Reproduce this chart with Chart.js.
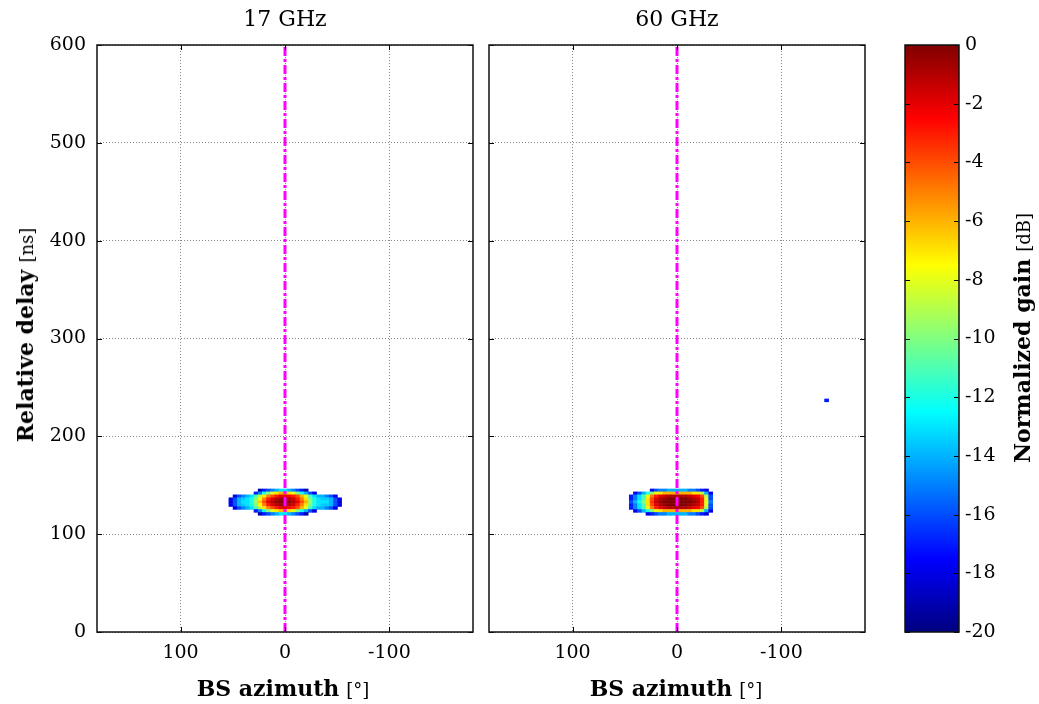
<!DOCTYPE html>
<html>
<head>
<meta charset="utf-8">
<script src="https://cdn.jsdelivr.net/npm/chart.js@4.4.0/dist/chart.umd.min.js"></script>
<style>
body{margin:0;background:#fff;width:1039px;height:704px;position:relative;overflow:hidden;font-family:'DejaVu Serif',serif;color:#000}
canvas{position:absolute;top:0}
.lbl{position:absolute;white-space:nowrap;font-size:22px;transform:translate(-50%,-50%)}
.lbl b{font-weight:bold}
.lbl span{font-size:18px}
.rot{transform:translate(-50%,-50%) rotate(-90deg)}
</style>
</head>
<body>
<canvas id="c17" width="480" height="704" style="left:0"></canvas>
<canvas id="c60" width="392" height="704" style="left:480px"></canvas>
<canvas id="cbar" width="159" height="704" style="left:880px"></canvas>
<div class="lbl" style="left:285px;top:18px">17 GHz</div>
<div class="lbl" style="left:677px;top:18px">60 GHz</div>
<div class="lbl" style="left:283px;top:688px"><b>BS azimuth</b> <span>[°]</span></div>
<div class="lbl" style="left:676px;top:688px"><b>BS azimuth</b> <span>[°]</span></div>
<div class="lbl rot" style="left:25px;top:335px"><b>Relative delay</b> <span>[ns]</span></div>
<div class="lbl rot" style="left:1022px;top:338px"><b>Normalized gain</b> <span>[dB]</span></div>
<script>
// griglia della mappa: azimut (colonne) e ritardo (righe)
var azCols = [52,48,44,40,36,32,28,24,20,16,12,8,4,0,-4,-8,-12,-16,-20,-24,-28,-32,-36,-40,-44,-48,-52];
var delayRows = [145,142,139,136,133,130,127,124,121];
var _ = null;

// guadagno normalizzato [dB] a 17 GHz
var gain17 = [
  [_,_,_,_,_,_,_,-19,-17,-16,-15,-14,-13,-13,-14,-15,-16,-17,-19,_,_,_,_,_,_,_,_],
  [_,_,_,_,_,_,-17,-15,-12,-10,-8,-7,-6,-6,-7,-8,-10,-12,-14,-16,-18,_,_,_,_,_,_],
  [_,-18,-16,-15,-14,-13,-11,-9,-7,-5,-4,-3,-2,-2,-2.5,-3,-4,-6,-8,-11,-13,-14,-14,-15,-16,-18,_],
  [-18,-16,-14,-13.5,-13,-12,-10,-7.5,-5,-3,-2,-1,-0.5,-0.5,-1,-1.5,-3,-5,-7,-10,-12,-13,-13.5,-13.5,-14,-16,-18],
  [-18,-16,-14,-13,-13,-12,-9.5,-6.5,-4,-2,-1,-0.5,0,0,-0.5,-1,-2,-4,-6,-9.5,-12,-13,-13,-13,-14,-16,-18],
  [-18,-16,-14,-13.5,-13,-12,-10,-7.5,-5,-3,-2,-1,-0.5,-0.5,-1,-1.5,-3,-5,-7,-10,-12,-13,-13.5,-13.5,-14,-16,-18],
  [_,-18,-16,-15,-14,-13,-11,-9,-7,-5,-4,-3,-2,-2,-2.5,-3,-4,-6,-8,-11,-13,-14,-14,-15,-16,-18,_],
  [_,_,_,_,_,_,-17,-15,-12,-10,-8,-7,-6,-6,-7,-8,-10,-12,-14,-16,-18,_,_,_,_,_,_],
  [_,_,_,_,_,_,_,-19,-17,-16,-15,-14,-13,-13,-14,-15,-16,-17,-19,_,_,_,_,_,_,_,_]
];

// guadagno normalizzato [dB] a 60 GHz
var gain60 = [
  [_,_,_,_,_,_,_,-18,-16,-15,-15,-14,-14,-14,-14,-14,-15,-15,-16,-17,-18,_,_,_,_,_,_],
  [_,_,_,-18,-16,-14,-12,-10,-8,-7,-6,-6,-6,-6,-6,-6,-6,-7,-7,-9,-14,-18,_,_,_,_,_],
  [_,_,-17,-15,-13,-11,-8,-5,-3,-2,-1.5,-1,-1,-1,-1,-1,-1.5,-2,-2.5,-4,-9,-16,_,_,_,_,_],
  [_,_,-17,-15,-13,-11,-7,-4,-2,-1,-0.5,0,0,0,0,0,-0.5,-1,-1.5,-3,-8,-16,_,_,_,_,_],
  [_,_,-16,-14,-12,-10,-7,-3.5,-1.5,-0.5,0,0,0,0,0,0,0,-0.5,-1,-3,-8,-15,_,_,_,_,_],
  [_,_,-17,-15,-13,-11,-7,-4,-2,-1,-0.5,0,0,0,0,0,-0.5,-1,-1.5,-3,-8,-16,_,_,_,_,_],
  [_,_,-17,-15,-13,-11,-8,-5,-3,-2,-1.5,-1,-1,-1,-1,-1,-1.5,-2,-2.5,-4,-9,-16,_,_,_,_,_],
  [_,_,_,-18,-16,-14,-12,-10,-8,-7,-6,-6,-6,-6,-6,-6,-6,-7,-7,-9,-14,-18,_,_,_,_,_],
  [_,_,_,_,_,_,-18,-17,-16,-15,-15,-14,-14,-14,-14,-14,-15,-15,-16,-17,-18,_,_,_,_,_,_]
];
// punto isolato a 60 GHz
var spotAz60 = [-143];
var spotDelay60 = [237];
var spotGain60 = [-17];

var xTicks = [100, 0, -100];
var lineAz = [0, 0];
var lineDelay = [0, 600];
var gainMin = -20, gainMax = 0;

var FONT = 'DejaVu Serif';

// mappa colori jet
function jet(v) {
  var t = Math.min(1, Math.max(0, (v - gainMin) / (gainMax - gainMin)));
  var c = function(x){ return Math.round(255 * Math.min(1, Math.max(0, 1.5 - Math.abs(x)))); };
  return 'rgb(' + c(4*t-3) + ',' + c(4*t-2) + ',' + c(4*t-1) + ')';
}

function makeHeat(values, sAz, sDelay, sGain) {
  return {
    id: 'heat',
    beforeDatasetsDraw: function(chart) {
      var ctx = chart.ctx, a = chart.chartArea, x = chart.scales.x, y = chart.scales.y;
      ctx.save();
      ctx.beginPath(); ctx.rect(a.left, a.top, a.width, a.height); ctx.clip();
      function cell(az, d, g) {
        var x0 = x.getPixelForValue(az + 2), x1 = x.getPixelForValue(az - 2);
        var y0 = y.getPixelForValue(d + 1.5), y1 = y.getPixelForValue(d - 1.5);
        ctx.fillStyle = jet(g);
        ctx.fillRect(Math.min(x0,x1), Math.min(y0,y1), Math.abs(x1-x0) + 0.5, Math.abs(y1-y0) + 0.5);
      }
      for (var i = 0; i < delayRows.length; i++) {
        for (var j = 0; j < azCols.length; j++) {
          if (values[i][j] !== null) cell(azCols[j], delayRows[i], values[i][j]);
        }
      }
      for (var k = 0; k < sAz.length; k++) cell(sAz[k], sDelay[k], sGain[k]);
      ctx.restore();
    }
  };
}

// cornice e tacche verso l'interno
var framePlugin = {
  id: 'frame',
  afterDraw: function(chart) {
    var ctx = chart.ctx, a = chart.chartArea, tl = 5;
    ctx.save();
    ctx.strokeStyle = '#000';
    ctx.lineWidth = 1;
    Object.keys(chart.scales).forEach(function(k){
      var s = chart.scales[k];
      if (!s.options.display) return;
      s.ticks.forEach(function(t){
        var p = Math.round(s.getPixelForValue(t.value)) + 0.5;
        ctx.beginPath();
        if (s.isHorizontal()) {
          ctx.moveTo(p, a.bottom); ctx.lineTo(p, a.bottom - tl);
          ctx.moveTo(p, a.top); ctx.lineTo(p, a.top + tl);
        } else {
          ctx.moveTo(a.left, p); ctx.lineTo(a.left + tl, p);
          ctx.moveTo(a.right, p); ctx.lineTo(a.right - tl, p);
        }
        ctx.stroke();
      });
    });
    ctx.lineWidth = 1.5;
    ctx.strokeStyle = '#111';
    ctx.strokeRect(a.left, a.top, a.width, a.height);
    ctx.restore();
  }
};

function panel(id, values, sAz, sDelay, sGain, showY, yWidth) {
  return new Chart(document.getElementById(id), {
    type: 'scatter',
    data: {
      datasets: [{
        data: lineAz.map(function(v, i){ return {x: v, y: lineDelay[i]}; }),
        showLine: true,
        borderColor: '#ff00ff',
        borderWidth: 3,
        borderDash: [9, 3, 3, 3],
        pointRadius: 0
      }]
    },
    options: {
      responsive: false,
      animation: false,
      layout: {padding: {top: 45, right: 7, left: 0, bottom: 0}},
      plugins: {legend: {display: false}, tooltip: {enabled: false}},
      scales: {
        x: {
          type: 'linear', min: -180, max: 180, reverse: true,
          afterBuildTicks: function(s){ s.ticks = xTicks.map(function(v){ return {value: v}; }); },
          afterFit: function(s){ s.height = 72; },
          ticks: {color: '#000', padding: 10, font: {family: FONT, size: 19}},
          grid: {color: 'rgba(0,0,0,0.6)', lineWidth: 0.8, drawTicks: false},
          border: {display: false, dash: [1, 2]}
        },
        y: {
          type: 'linear', min: 0, max: 600,
          afterFit: function(s){ s.width = yWidth; },
          ticks: {display: showY, stepSize: 100, color: '#000', padding: 11, font: {family: FONT, size: 19}},
          grid: {color: 'rgba(0,0,0,0.6)', lineWidth: 0.8, drawTicks: false},
          border: {display: false, dash: [1, 2]}
        }
      }
    },
    plugins: [makeHeat(values, sAz, sDelay, sGain), framePlugin]
  });
}

panel('c17', gain17, [], [], [], true, 97);
panel('c60', gain60, spotAz60, spotDelay60, spotGain60, false, 9);

// barra dei colori
new Chart(document.getElementById('cbar'), {
  type: 'bar',
  data: {
    labels: [''],
    datasets: [{
      data: [[gainMin, gainMax]],
      barPercentage: 1,
      categoryPercentage: 1,
      borderWidth: 0,
      backgroundColor: function(c){
        var a = c.chart.chartArea;
        if (!a) return '#000';
        var g = c.chart.ctx.createLinearGradient(0, a.bottom, 0, a.top);
        for (var i = 0; i <= 40; i++) g.addColorStop(i / 40, jet(gainMin + i * (gainMax - gainMin) / 40));
        return g;
      }
    }]
  },
  options: {
    responsive: false,
    animation: false,
    layout: {padding: {left: 25, top: 45, bottom: 72, right: 0}},
    plugins: {legend: {display: false}, tooltip: {enabled: false}},
    scales: {
      x: {display: false},
      y: {
        position: 'right', min: gainMin, max: gainMax,
        afterFit: function(s){ s.width = 80; },
        ticks: {stepSize: 2, color: '#000', padding: 6, font: {family: FONT, size: 19}},
        grid: {display: false, drawTicks: false},
        border: {display: false}
      }
    }
  },
  plugins: [framePlugin]
});
</script>
</body>
</html>
